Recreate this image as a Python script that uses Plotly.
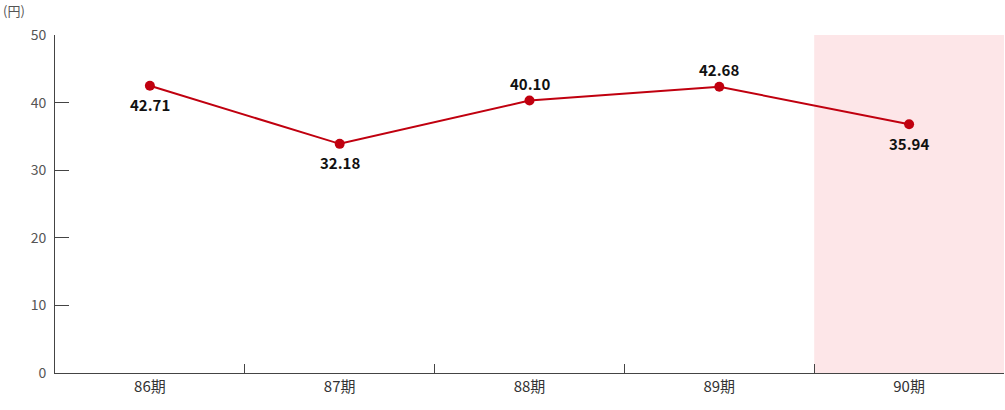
import plotly.graph_objects as go

# categories and values
periods = ["86期", "87期", "88期", "89期", "90期"]
plotted_values = [42.5, 33.9, 40.3, 42.35, 36.8]
label_texts = ["42.71", "32.18", "40.10", "42.68", "35.94"]
label_above = [False, False, True, True, False]
y_ticks = [0, 10, 20, 30, 40, 50]

LINE_COLOR = "#c0000f"
FONT = "Noto Sans CJK JP"

fig = go.Figure()

# highlight current period
fig.add_shape(type="rect", xref="x", yref="paper", x0=3.5, x1=4.5, y0=0, y1=1,
              fillcolor="#fde6e8", line_width=0, layer="below")

fig.add_trace(go.Scatter(
    x=periods,
    y=plotted_values,
    mode="lines+markers",
    line=dict(color=LINE_COLOR, width=2),
    marker=dict(color=LINE_COLOR, size=10),
    cliponaxis=False,
    showlegend=False,
))

# data labels
for p, v, t, above in zip(periods, plotted_values, label_texts, label_above):
    fig.add_annotation(x=p, y=v, text=t, showarrow=False,
                       yshift=17 if above else -19,
                       font=dict(family=FONT, size=15, color="#111111", weight="bold"))

fig.update_xaxes(
    type="category",
    range=[-0.5, 4.5],
    tickson="boundaries",
    ticks="inside",
    ticklen=9,
    tickcolor="#444444",
    showline=True,
    linecolor="#444444",
    linewidth=1,
    showgrid=False,
    zeroline=False,
    automargin=False,
    tickfont=dict(family=FONT, size=15, color="#333333"),
)

fig.update_yaxes(
    range=[0, 50],
    tickvals=y_ticks,
    ticks="inside",
    ticklen=14,
    tickcolor="#444444",
    showline=True,
    linecolor="#444444",
    linewidth=1,
    showgrid=False,
    zeroline=False,
    automargin=False,
    ticklabelstandoff=5,
    tickfont=dict(family=FONT, size=14, color="#555555"),
)

# unit label
fig.add_annotation(text="(円)", xref="paper", yref="paper", x=0, xshift=-54, y=1.0,
                   yshift=25, xanchor="left", yanchor="middle", showarrow=False,
                   font=dict(family=FONT, size=13, color="#555555"))

fig.update_layout(
    width=1005,
    height=410,
    margin=dict(l=55, r=1, t=35, b=37, autoexpand=False),
    plot_bgcolor="white",
    paper_bgcolor="white",
)

# drop the default page margin so the figure fills the window exactly
fig.write_html("out.html", config={"displayModeBar": False},
               post_script="document.body.style.margin='0';document.body.style.overflow='hidden';")
